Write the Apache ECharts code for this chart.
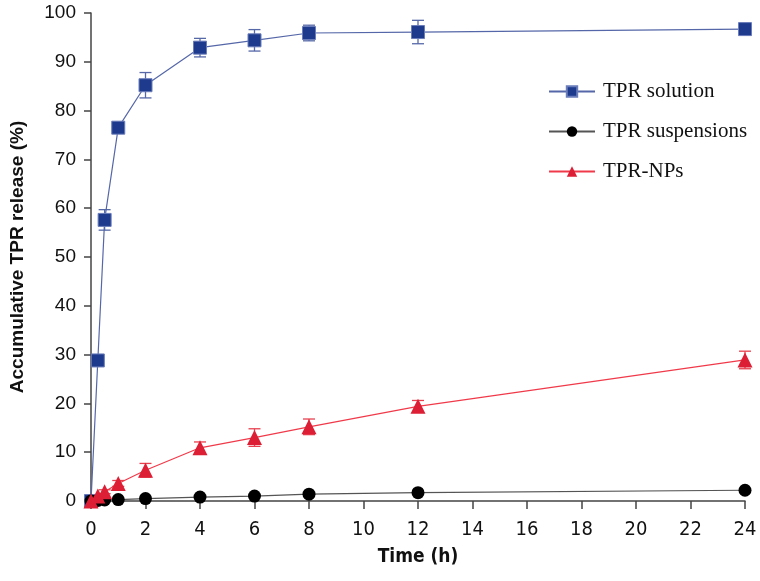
<!DOCTYPE html>
<html><head><meta charset="utf-8">
<script src="https://cdn.jsdelivr.net/npm/echarts@6/dist/echarts.min.js"></script>
<style>html,body{margin:0;padding:0;background:#fff}#c{width:760px;height:581px}</style>
</head><body><div id="c"></div>
<script>
const times = [0, 0.25, 0.5, 1, 2, 4, 6, 8, 12, 24];
const solution = [0, 28.8, 57.6, 76.5, 85.2, 92.9, 94.4, 95.9, 96.1, 96.7];
const solutionErr = [0, 1.0, 2.1, 0.9, 2.6, 1.9, 2.2, 1.6, 2.4, 1.2];
const suspension = [0, 0.1, 0.2, 0.3, 0.5, 0.8, 1.0, 1.4, 1.7, 2.2];
const suspensionErr = [0, 0, 0, 0, 0, 0, 0, 0, 0, 0];
const nps = [0, 1.0, 1.9, 3.6, 6.3, 10.9, 13.0, 15.2, 19.4, 28.9];
const npsErr = [0, 0.3, 0.4, 0.6, 1.4, 1.2, 1.8, 1.6, 1.2, 1.8];
const xTicks = [0,2,4,6,8,10,12,14,16,18,20,22,24];
const yTicks = [0,10,20,30,40,50,60,70,80,90,100];
const names = ['TPR solution', 'TPR suspensions', 'TPR-NPs'];

function pairs(v){ return times.map((t,i)=>[t, v[i]]); }
function errData(v,e){ return times.map((t,i)=>[t, v[i]-e[i], v[i]+e[i]]).filter((d,i)=>e[i]>0); }
function errSeries(v,e,color){
  return {
    type:'custom', silent:true, z:1,
    renderItem:function(params, api){
      const x = api.value(0);
      const lo = api.coord([x, api.value(1)]);
      const hi = api.coord([x, api.value(2)]);
      const w = 6;
      const st = {stroke: color, lineWidth: 1.3};
      return {type:'group', children:[
        {type:'line', shape:{x1:lo[0], y1:lo[1], x2:hi[0], y2:hi[1]}, style:st},
        {type:'line', shape:{x1:lo[0]-w, y1:lo[1], x2:lo[0]+w, y2:lo[1]}, style:st},
        {type:'line', shape:{x1:hi[0]-w, y1:hi[1], x2:hi[0]+w, y2:hi[1]}, style:st}
      ]};
    },
    encode:{x:0, y:[1,2]},
    data: errData(v,e)
  };
}
const narrow = 'DejaVu Sans Condensed, Liberation Sans Narrow, Liberation Sans';

const chart = echarts.init(document.getElementById('c'));
chart.setOption({
  animation:false,
  grid:{left:91, right:15, top:13, bottom:80, containLabel:false, outerBoundsMode:'none'},
  legend:{
    data:names, orient:'vertical', left:543, top:76, itemGap:19,
    itemWidth:46, itemHeight:13,
    textStyle:{fontFamily:'Liberation Serif', fontSize:21, color:'#111', padding:[0,0,0,3]}
  },
  xAxis:{
    type:'value', min:0, max:24, interval:2,
    name:'Time (h)', nameLocation:'middle', nameGap:47,
    nameTextStyle:{fontFamily:narrow, fontWeight:'bold', fontSize:19, color:'#111'},
    axisLine:{lineStyle:{color:'#444', width:1.5}},
    axisTick:{length:8, lineStyle:{color:'#444', width:1.5}},
    axisLabel:{fontFamily:narrow, fontSize:20, color:'#111', margin:19},
    splitLine:{show:false}
  },
  yAxis:{
    type:'value', min:0, max:100, interval:10,
    name:'Accumulative TPR release (%)', nameLocation:'middle', nameGap:64,
    nameTextStyle:{fontFamily:'Liberation Sans', fontWeight:'bold', fontSize:19, color:'#111'},
    axisLine:{show:true, lineStyle:{color:'#444', width:1.5}},
    axisTick:{show:true, length:7, lineStyle:{color:'#444', width:1.5}},
    axisLabel:{fontFamily:'Liberation Sans', fontSize:19, color:'#111', margin:15},
    splitLine:{show:false}
  },
  series:[
    errSeries(solution, solutionErr, '#5668a8'),
    errSeries(nps, npsErr, '#e8404f'),
    {name:names[0], type:'line', data:pairs(solution), symbol:'rect', symbolSize:13,
     lineStyle:{color:'#5567a8', width:1.2}, itemStyle:{color:'#1d3a8c', borderColor:'#6a7cba', borderWidth:1}, z:3},
    {name:names[1], type:'line', data:pairs(suspension), symbol:'circle', symbolSize:13,
     lineStyle:{color:'#555', width:1.2}, itemStyle:{color:'#000'}, z:3},
    {name:names[2], type:'line', data:pairs(nps), symbol:'triangle', symbolSize:15,
     lineStyle:{color:'#f03a4a', width:1.2}, itemStyle:{color:'#dc1f35'}, z:4}
  ]
});
</script></body></html>
